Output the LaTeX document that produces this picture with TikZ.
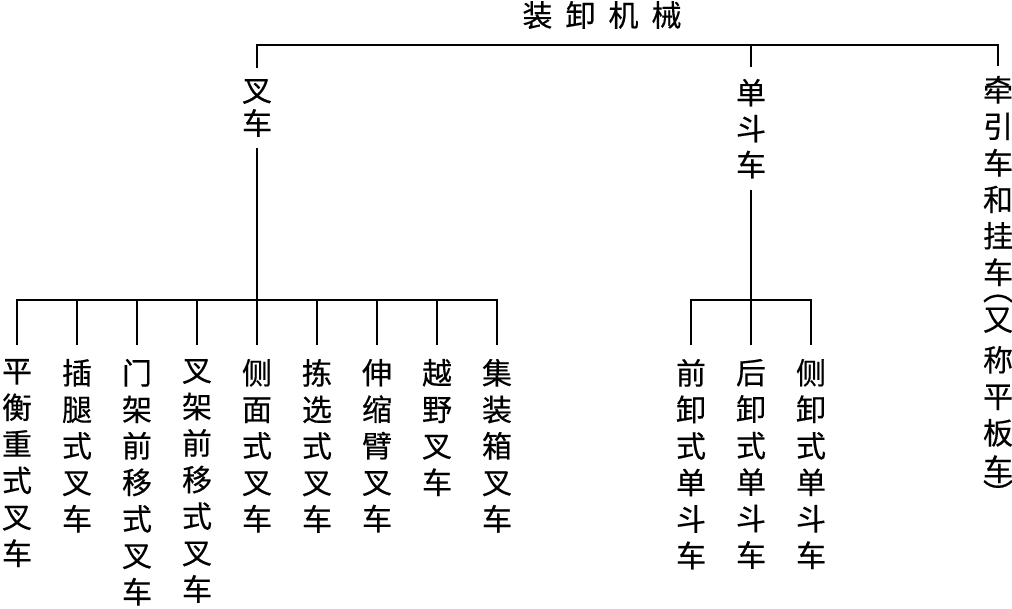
\documentclass[tikz,border=0pt]{standalone}
\usepackage{fontspec}
\newfontfamily\cjk[FakeBold=0.4]{Noto Sans CJK SC}
\begin{document}
\begin{tikzpicture}[x=1pt,y=-1pt,line width=2pt,
  lab/.style={font=\cjk\fontsize{30}{36.5}\selectfont, align=center, inner xsep=0pt, inner ysep=10pt, anchor=north},
  leaf/.style={lab, inner ysep=13pt},
  ttl/.style={font=\cjk\fontsize{30}{34}\selectfont, inner sep=0pt}
]
\useasboundingbox (0,0) rectangle (1012,608);
\node[ttl] (root) at (602,15) {装\hspace{13pt}卸\hspace{13pt}机\hspace{13pt}械};
\coordinate (top) at (602,45);
\coordinate (fb) at (257,300);
\coordinate (bb) at (751,300);
% level 1
\node[lab, font=\cjk\fontsize{30}{33}\selectfont] (fork) at (257,68) {叉\\车};
\node[lab, font=\cjk\fontsize{30}{36}\selectfont, inner ysep=11pt] (bucket) at (751,67) {单\\斗\\车};
\node[lab, inner ysep=9pt] (trac) at (998,66) {牵\\引\\车\\和\\挂\\车\\[-20pt]\smash{︵}\\[-6pt]又\\[4pt]称\\平\\板\\车\\[-12pt]\smash{︶}};
\draw (fork.north) -- (fork.north |- top) -- (trac.north |- top) -- (trac.north);
\draw (bucket.north) -- (bucket.north |- top);
% forklift leaves
\node[leaf] (f1) at (17,345) {平\\衡\\重\\式\\叉\\车};
\node[leaf] (f2) at (77,345) {插\\腿\\式\\叉\\车};
\node[leaf] (f3) at (137,345) {门\\架\\前\\移\\式\\叉\\车};
\node[leaf] (f4) at (197,345) {叉\\架\\前\\移\\式\\叉\\车};
\node[leaf] (f5) at (257,345) {侧\\面\\式\\叉\\车};
\node[leaf] (f6) at (317,345) {拣\\选\\式\\叉\\车};
\node[leaf] (f7) at (377,345) {伸\\缩\\臂\\叉\\车};
\node[leaf] (f8) at (437,345) {越\\野\\叉\\车};
\node[leaf] (f9) at (497,345) {集\\装\\箱\\叉\\车};
\draw (fork.south) -- (fb);
\draw (f1.north) -- (f1.north |- fb) -- (f9.north |- fb) -- (f9.north);
\foreach \n in {f2,f3,f4,f5,f6,f7,f8} \draw (\n.north) -- (\n.north |- fb);
% bucket leaves
\node[leaf] (b1) at (691,345) {前\\卸\\式\\单\\斗\\车};
\node[leaf] (b2) at (751,345) {后\\卸\\式\\单\\斗\\车};
\node[leaf] (b3) at (811,345) {侧\\卸\\式\\单\\斗\\车};
\draw (bucket.south) -- (bb);
\draw (b1.north) -- (b1.north |- bb) -- (b3.north |- bb) -- (b3.north);
\draw (b2.north) -- (b2.north |- bb);
\end{tikzpicture}
\end{document}
